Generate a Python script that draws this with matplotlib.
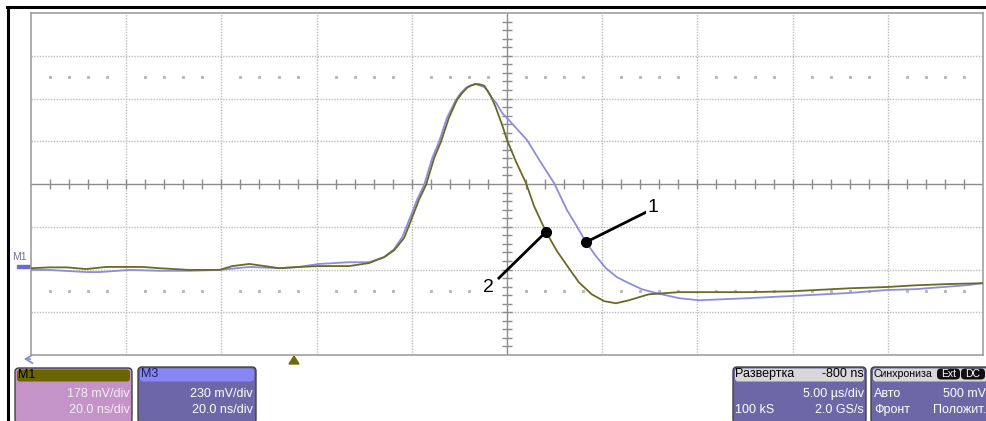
import matplotlib
matplotlib.use("Agg")
import matplotlib.pyplot as plt
from matplotlib.patches import FancyBboxPatch, Rectangle, Polygon

plt.rcParams['font.family'] = ['Liberation Sans', 'DejaVu Sans']

# time, ns (20 ns/div), amplitude in divisions
t_m1 = [-100, -96.1, -92.5, -88.4, -84.2, -76.6, -73.0, -66.7, -60.4, -57.7,
        -54.1, -47.8, -43.7, -39.5, -33.2, -29.0, -25.8, -23.7, -21.6, -19.5,
        -18.5, -17.0, -15.3, -13.9, -12.2, -10.5, -9.4, -8.4, -7.6, -6.5,
        -5.7, -4.8, -4.2, -3.4, -2.5, -1.7, -0.8, 0.0, 1.9,
        4.0, 5.7, 8.2, 10.5, 13.0, 15.1, 17.8, 20.4, 22.9, 25.6,
        29.8, 36.1, 40.3, 50.8, 59.8, 71.8, 79.7, 85.8, 92.8, 100]
y_m1 = [-1.97, -1.95, -1.95, -1.99, -1.94, -1.94, -1.97, -2.01, -2.01, -1.92,
        -1.87, -1.97, -1.94, -1.92, -1.92, -1.85, -1.71, -1.55, -1.26, -0.66,
        -0.37, -0.02, 0.61, 0.98, 1.55, 1.97, 2.13, 2.25, 2.30, 2.34,
        2.33, 2.30, 2.20, 2.06, 1.83, 1.59, 1.31, 1.03, 0.52,
        0.02, -0.52, -1.12, -1.57, -1.97, -2.30, -2.58, -2.74, -2.79, -2.72,
        -2.58, -2.53, -2.53, -2.53, -2.51, -2.44, -2.41, -2.37, -2.34, -2.32]

t_m3 = [-100, -96.1, -88.4, -85.6, -79.3, -73.0, -66.7, -60.4, -54.1, -47.8,
        -43.7, -39.5, -33.2, -29.0, -25.8, -23.7, -22.0, -19.9, -18.9, -17.4,
        -15.7, -14.3, -12.6, -10.7, -9.7, -8.6, -7.8, -6.7, -4.8, -4.2,
        -3.4, -2.3, -1.0, 0.2, 1.5, 4.2, 6.9, 9.9,
        12.6, 14.5, 16.6, 18.7, 20.8, 23.1, 25.6, 28.3, 31.3, 36.1,
        40.3, 50.8, 59.8, 71.8, 79.7, 85.8, 96.3, 100]
y_m3 = [-2.01, -2.01, -2.06, -2.06, -2.01, -2.03, -2.03, -2.01, -1.94, -1.97,
        -1.94, -1.87, -1.83, -1.83, -1.71, -1.52, -1.24, -0.66, -0.37, -0.02,
        0.61, 0.98, 1.55, 1.97, 2.13, 2.25, 2.30, 2.34, 2.27, 2.20,
        2.04, 1.90, 1.66, 1.52, 1.36, 1.03, 0.54, 0.02,
        -0.61, -0.96, -1.36, -1.69, -1.97, -2.18, -2.32, -2.46, -2.55, -2.67,
        -2.72, -2.67, -2.62, -2.55, -2.48, -2.46, -2.37, -2.32]

# callouts: label, point on trace, line end, label position
callouts = [("1", (16.6, -1.36), (29.2, -0.66), (30.6, -0.54)),
            ("2", (8.2, -1.12), (-1.7, -2.20), (-4.0, -2.41))]

olive = '#6b6a22'
lilac = '#8c8ce0'

W, H = 987, 421
fig = plt.figure(figsize=(W / 100, H / 100), dpi=100)

# overlay in pixel coordinates for the scope frame and info boxes
bg = fig.add_axes([0, 0, 1, 1])
bg.set_xlim(0, W)
bg.set_ylim(H, 0)
bg.axis('off')

ax = fig.add_axes([31 / W, (H - 355) / H, 952 / W, 342 / H])
ax.set_xlim(-100, 100)
ax.set_ylim(-4, 4)
ax.set_xticks([])
ax.set_yticks([])
for s in ax.spines.values():
    s.set_color('#a0a0a0')
    s.set_linewidth(1.2)

grid_kw = dict(color='#bcbcbc', lw=1, ls=(0, (1, 1)), zorder=0)
for x in range(-80, 100, 20):
    if x != 0:
        ax.axvline(x, **grid_kw)
for y in [-3, -2, -1, 1, 2, 3]:
    ax.axhline(y, **grid_kw)

# dotted rows at +-2.5 div
dots_x = [x for x in range(-96, 100, 4) if x % 20 != 0]
for y in [2.5, -2.5]:
    ax.plot(dots_x, [y] * len(dots_x), ls='none', marker='s', ms=1.2,
            color='#b8b8b8', zorder=0)

# centre cross with minor ticks
ax.axhline(0, color='#8c8c8c', lw=1, zorder=1)
ax.axvline(0, color='#8c8c8c', lw=1, zorder=1)
tx = [x for x in range(-96, 100, 4)]
ax.plot(tx, [0] * len(tx), ls='none', marker='|', ms=7, mew=1,
        color='#8c8c8c', zorder=1)
ty = [i / 5 for i in range(-19, 20) if i != 0]
ax.plot([0] * len(ty), ty, ls='none', marker='_', ms=7, mew=1,
        color='#8c8c8c', zorder=1)

ax.plot(t_m3, y_m3, color=lilac, lw=1.3, zorder=3)
ax.plot(t_m1, y_m1, color=olive, lw=1.3, zorder=4)

for label, pt, end, pos in callouts:
    ax.plot([pt[0], end[0]], [pt[1], end[1]], color='black', lw=2, zorder=5)
    ax.plot(pt[0], pt[1], 'o', color='black', ms=7, zorder=6)
    ax.text(pos[0], pos[1], label, fontsize=14, ha='center', va='center',
            zorder=6, bbox=dict(facecolor='white', edgecolor='none', pad=1))

# outer frame: top and left black lines
bg.plot([7, W], [7, 7], color='black', lw=2.2)
bg.plot([7.5, 7.5], [7, H], color='black', lw=2.2)

# M1 marker on the left
bg.text(12, 257, 'M1', fontsize=7.5, color='#707090', va='center')
bg.add_patch(Rectangle((17, 265), 14, 2.5, color='#6a6ad0'))

# small arrow and trigger triangle
bg.annotate('', xy=(21, 359), xytext=(33, 359),
            arrowprops=dict(arrowstyle='->,head_length=0.5,head_width=0.3',
                            color='#8c8cd8', lw=1.3))
bg.add_patch(Polygon([[289, 364], [299, 364], [294, 356]], closed=True,
                     color='#6e6a10'))


def info_box(x0, x1, y0, y1, head_h, head_c, body_c):
    bg.add_patch(FancyBboxPatch((x0, y0), x1 - x0, y1 - y0,
                                boxstyle='round,pad=0,rounding_size=4',
                                fc=body_c, ec='#404040', lw=1))
    bg.add_patch(FancyBboxPatch((x0 + 2, y0 + 1.5), x1 - x0 - 4, head_h,
                                boxstyle='round,pad=0,rounding_size=3',
                                fc=head_c, ec='none'))


fs = 9
info_box(15, 132, 368, 423, 12, '#6b6400', '#c494c9')
bg.text(18, 374.5, 'M1', fontsize=fs, color='black', va='center')
bg.text(130, 394, '178 mV/div', fontsize=fs, color='#f4eef4', ha='right', va='center')
bg.text(130, 410, '20.0 ns/div', fontsize=fs, color='#f4eef4', ha='right', va='center')

info_box(138, 256, 367, 423, 13, '#8686f4', '#6c68a8')
bg.text(141, 374, 'M3', fontsize=fs, color='#1e1e5a', va='center')
bg.text(253, 394, '230 mV/div', fontsize=fs, color='white', ha='right', va='center')
bg.text(253, 410, '20.0 ns/div', fontsize=fs, color='white', ha='right', va='center')

info_box(733, 866, 367, 423, 13, '#d8d8d8', '#6c68a8')
bg.text(735, 374, 'Развертка', fontsize=fs, color='black', va='center')
bg.text(864, 374, '-800 ns', fontsize=fs, color='black', ha='right', va='center')
bg.text(864, 394, '5.00 µs/div', fontsize=fs, color='white', ha='right', va='center')
bg.text(735, 410, '100 kS', fontsize=fs, color='white', va='center')
bg.text(864, 410, '2.0 GS/s', fontsize=fs, color='white', ha='right', va='center')

info_box(871, 992, 367, 423, 13, '#d8d8d8', '#6c68a8')
bg.text(873, 374, 'Синхрониза', fontsize=7.6, color='black', va='center')
for bx, bw, lab in [(937, 23, 'Ext'), (961, 24, 'DC')]:
    bg.add_patch(FancyBboxPatch((bx, 368.5), bw, 11,
                                boxstyle='round,pad=0,rounding_size=4',
                                fc='#111111', ec='none'))
    bg.text(bx + bw / 2, 374, lab, fontsize=7.5, color='white',
            ha='center', va='center')
bg.text(874, 394, 'Авто', fontsize=fs, color='white', va='center')
bg.text(986, 394, '500 mV', fontsize=fs, color='white', ha='right', va='center')
bg.text(874, 410, 'Фронт', fontsize=fs, color='white', va='center')
bg.text(986, 410, 'Положит.', fontsize=fs, color='white', ha='right', va='center')

fig.savefig('out.png', dpi=100)
